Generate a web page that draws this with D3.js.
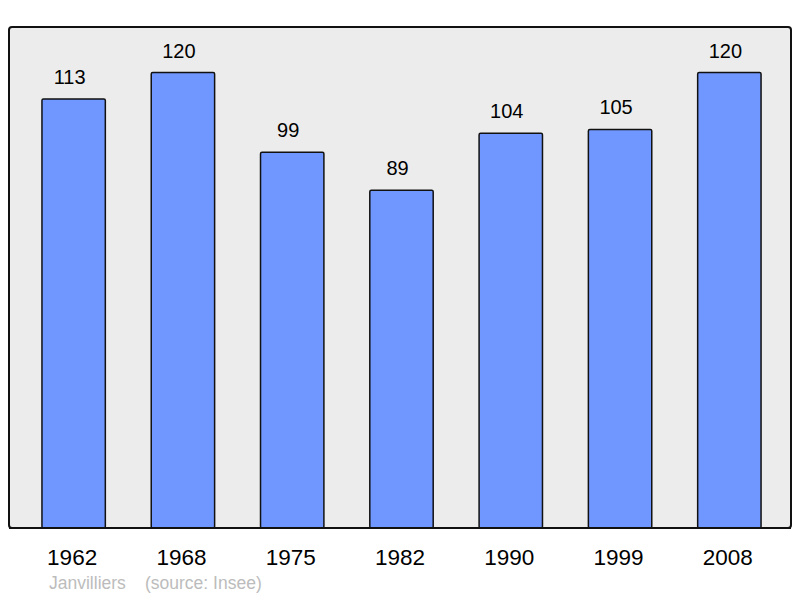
<!DOCTYPE html>
<html>
<head>
<meta charset="utf-8">
<script src="https://cdn.jsdelivr.net/npm/d3@7"></script>
<style>
  body { margin: 0; background: #fff; }
  text { font-family: "Liberation Sans", Arial, sans-serif; }
</style>
</head>
<body>
<svg id="chart" width="800" height="598"></svg>
<script>
var width = 800;
var height = 598;

var years = ["1962", "1968", "1975", "1982", "1990", "1999", "2008"];
var population = [113, 120, 99, 89, 104, 105, 120];
var commune = "Janvilliers";
var source = "(source: Insee)";

var svg = d3.select("#chart");

// frame
var box = { left: 9, top: 27, right: 791, bottom: 528 };
svg.append("rect")
    .attr("x", box.left)
    .attr("y", box.top)
    .attr("width", box.right - box.left)
    .attr("height", box.bottom - box.top)
    .attr("rx", 3)
    .style("fill", "#ececec")
    .style("stroke", "#111")
    .style("stroke-width", 2);

var x = d3.scaleBand()
    .domain(years)
    .range([19, 784])
    .paddingInner(0.42)
    .paddingOuter(0.21);

var y = d3.scaleLinear()
    .domain([0, d3.max(population) * 1.1])
    .range([box.bottom, box.top]);

var data = years.map(function (d, i) { return { year: d, value: population[i] }; });

svg.selectAll(".bar")
    .data(data)
    .enter().append("rect")
    .attr("class", "bar")
    .attr("x", function (d) { return x(d.year); })
    .attr("y", function (d) { return y(d.value); })
    .attr("width", x.bandwidth())
    .attr("height", function (d) { return box.bottom - y(d.value); })
    .attr("rx", 1.5)
    .style("fill", "#7097ff")
    .style("stroke", "#111")
    .style("stroke-width", 1.5);

// redraw bottom line over bar strokes
svg.append("line")
    .attr("x1", box.left)
    .attr("x2", box.right)
    .attr("y1", box.bottom)
    .attr("y2", box.bottom)
    .style("stroke", "#111")
    .style("stroke-width", 2);

svg.selectAll(".val")
    .data(data)
    .enter().append("text")
    .attr("class", "val")
    .attr("x", function (d) { return x(d.year) + x.bandwidth() / 2 - 4; })
    .attr("y", function (d) { return y(d.value) - 15; })
    .attr("text-anchor", "middle")
    .style("font-size", "20px")
    .style("fill", "#000")
    .text(function (d) { return d.value; });

svg.selectAll(".year")
    .data(years)
    .enter().append("text")
    .attr("class", "year")
    .attr("x", function (d) { return x(d) + x.bandwidth() / 2 - 1.5; })
    .attr("y", 565)
    .attr("text-anchor", "middle")
    .style("font-size", "22.5px")
    .style("fill", "#000")
    .text(function (d) { return d; });

svg.append("text")
    .attr("x", 49)
    .attr("y", 589)
    .style("font-size", "17.5px")
    .style("fill", "#bcbcbc")
    .text(commune);

svg.append("text")
    .attr("x", 145)
    .attr("y", 589)
    .style("font-size", "17.5px")
    .style("fill", "#bcbcbc")
    .text(source);
</script>
</body>
</html>
